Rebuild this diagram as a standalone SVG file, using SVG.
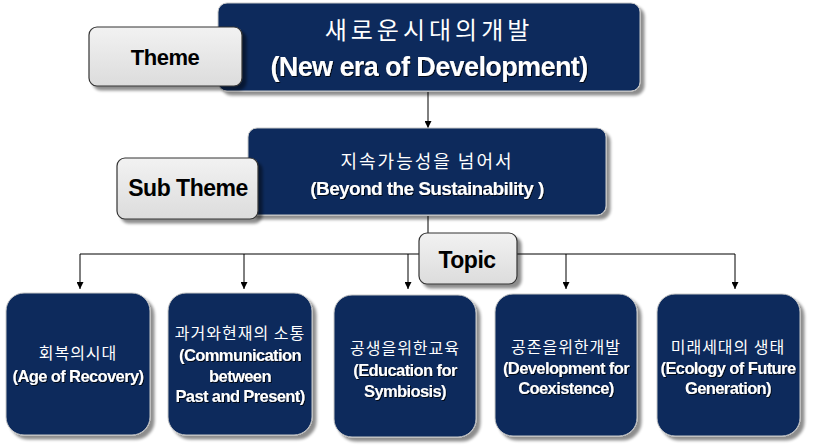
<svg xmlns="http://www.w3.org/2000/svg" width="815" height="448" viewBox="0 0 815 448">
<defs>
<filter id="sh" x="-10%" y="-10%" width="130%" height="130%">
<feGaussianBlur in="SourceAlpha" stdDeviation="1.5"/>
<feOffset dx="4" dy="4"/>
<feComponentTransfer><feFuncA type="linear" slope="0.45"/></feComponentTransfer>
<feMerge><feMergeNode/><feMergeNode in="SourceGraphic"/></feMerge>
</filter>
<filter id="ts" x="-10%" y="-20%" width="120%" height="140%">
<feOffset in="SourceAlpha" dx="1" dy="1" result="o"/>
<feFlood flood-color="#000" flood-opacity="0.8"/>
<feComposite in2="o" operator="in"/>
<feMerge><feMergeNode/><feMergeNode in="SourceGraphic"/></feMerge>
</filter>
<linearGradient id="lg" x1="0" y1="0" x2="0" y2="1">
<stop offset="0" stop-color="#f2f2f2"/>
<stop offset="1" stop-color="#dcdcdc"/>
</linearGradient>
<marker id="ah" viewBox="0 0 10 10" refX="10" refY="5" markerWidth="7" markerHeight="7" orient="auto" markerUnits="userSpaceOnUse">
<path d="M0,0 L10,5 L0,10 z" fill="#000"/>
</marker>
</defs>
<style>
.dark{fill:#0b2a5c;stroke:#c8c8c8;stroke-width:1;filter:url(#sh)}
.lab{fill:url(#lg);stroke:#333;stroke-width:1.2;filter:url(#sh)}
.ko{font-family:"Noto Sans CJK KR","Liberation Sans",sans-serif;fill:#fff;text-anchor:middle}
.en{font-family:"Liberation Sans",Arial,sans-serif;font-weight:bold;fill:#fff;text-anchor:middle;letter-spacing:-0.6px;filter:url(#ts)}
.lt{font-family:"Liberation Sans",Arial,sans-serif;font-weight:bold;fill:#000;text-anchor:middle;letter-spacing:-0.5px}
.ln{stroke:#000;stroke-width:1;fill:none}
.b{font-size:16.5px}
.bk{font-size:16px;letter-spacing:1px}
</style>
<rect width="815" height="448" fill="#fff"/>
<g id="connectors">
<line class="ln" x1="428" y1="92" x2="428" y2="128" marker-end="url(#ah)"/>
<line class="ln" x1="428" y1="216" x2="428" y2="234"/>
<line class="ln" x1="80" y1="254" x2="735" y2="254"/>
<line class="ln" x1="80" y1="254" x2="80" y2="289" marker-end="url(#ah)"/>
<line class="ln" x1="244" y1="254" x2="244" y2="289" marker-end="url(#ah)"/>
<line class="ln" x1="408" y1="254" x2="408" y2="289" marker-end="url(#ah)"/>
<line class="ln" x1="566" y1="254" x2="566" y2="289" marker-end="url(#ah)"/>
<line class="ln" x1="735" y1="254" x2="735" y2="289" marker-end="url(#ah)"/>
</g>
<g id="theme">
<rect class="dark" x="218" y="3" width="422" height="88" rx="9"/>
<text class="ko" x="429" y="39" font-size="24" letter-spacing="4">새로운시대의개발</text>
<text class="en" x="429" y="76" font-size="27">(New era of Development)</text>
</g>
<g id="theme-label">
<rect class="lab" x="89" y="27" width="153" height="59" rx="8"/>
<text class="lt" x="165" y="65" font-size="22">Theme</text>
</g>
<g id="subtheme">
<rect class="dark" x="248" y="128" width="358" height="87" rx="9"/>
<text class="ko" x="427" y="168" font-size="18" letter-spacing="2">지속가능성을 넘어서</text>
<text class="en" x="427" y="195" font-size="19">(Beyond the Sustainability )</text>
</g>
<g id="subtheme-label">
<rect class="lab" x="117" y="158" width="141" height="61" rx="8"/>
<text class="lt" x="188" y="196" font-size="23">Sub Theme</text>
</g>
<g id="topic-label">
<rect class="lab" x="419" y="233" width="98" height="51" rx="8"/>
<text class="lt" x="467" y="268" font-size="23">Topic</text>
</g>
<g id="topic1">
<rect class="dark" x="6" y="293" width="144" height="142" rx="18"/>
<text class="ko bk" x="78" y="359">회복의시대</text>
<text class="en b" x="78" y="382">(Age of Recovery)</text>
</g>
<g id="topic2">
<rect class="dark" x="168" y="293" width="144" height="142" rx="18"/>
<text class="ko bk" x="240" y="339">과거와현재의 소통</text>
<text class="en b" x="240" y="361">(Communication</text>
<text class="en b" x="240" y="382">between</text>
<text class="en b" x="240" y="402">Past and Present)</text>
</g>
<g id="topic3">
<rect class="dark" x="334" y="295" width="142" height="142" rx="18"/>
<text class="ko bk" x="405" y="354">공생을위한교육</text>
<text class="en b" x="405" y="376">(Education for</text>
<text class="en b" x="405" y="397">Symbiosis)</text>
</g>
<g id="topic4">
<rect class="dark" x="495" y="294" width="142" height="142" rx="18"/>
<text class="ko bk" x="566" y="353">공존을위한개발</text>
<text class="en b" x="566" y="374">(Development for</text>
<text class="en b" x="566" y="394">Coexistence)</text>
</g>
<g id="topic5">
<rect class="dark" x="657" y="294" width="143" height="142" rx="18"/>
<text class="ko bk" x="728" y="353">미래세대의 생태</text>
<text class="en b" x="728" y="374">(Ecology of Future</text>
<text class="en b" x="728" y="394">Generation)</text>
</g>
</svg>
